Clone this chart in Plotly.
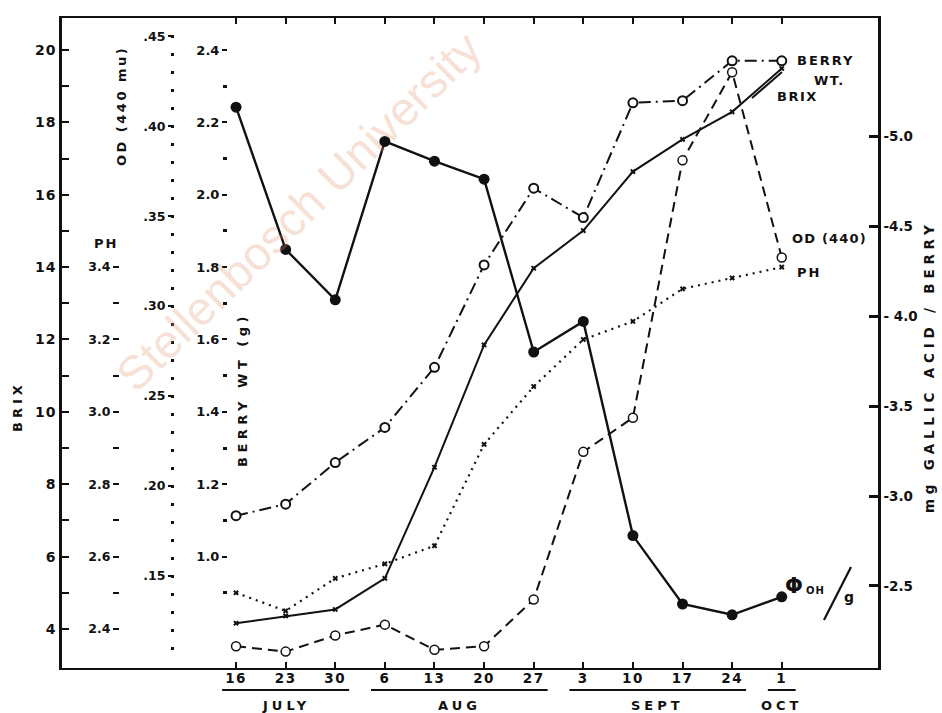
import plotly.graph_objects as go

# ---------------- data ----------------
days = ["16", "23", "30", "6", "13", "20", "27", "3", "10", "17", "24", "1"]
months = ["JULY", "AUG", "SEPT", "OCT"]
month_first = [0, 3, 7, 11]
month_last = [2, 6, 10, 11]

brix = [4.16, 4.36, 4.54, 5.40, 8.47, 11.85, 13.97, 15.01, 16.64, 17.53, 18.29, 19.49]
ph = [2.50, 2.45, 2.54, 2.58, 2.63, 2.91, 3.07, 3.20, 3.25, 3.34, 3.37, 3.40]
od440 = [0.111, 0.108, 0.117, 0.123, 0.109, 0.111, 0.137, 0.219, 0.238, 0.381, 0.430, 0.327]
berry_wt = [1.113, 1.145, 1.260, 1.357, 1.523, 1.806, 2.018, 1.937, 2.254, 2.260, 2.370, 2.370]
gallic = [5.16, 4.37, 4.09, 4.97, 4.86, 4.76, 3.80, 3.97, 2.78, 2.40, 2.34, 2.44]

brix_ticks = [4, 6, 8, 10, 12, 14, 16, 18, 20]
brix_minor = [5, 7, 9, 11, 13, 15, 17, 19]
ph_ticks = [2.4, 2.6, 2.8, 3.0, 3.2, 3.4]
ph_minor = [2.5, 2.7, 2.9, 3.1, 3.3]
od_ticks = [0.15, 0.20, 0.25, 0.30, 0.35, 0.40, 0.45]
od_labels = [".15", ".20", ".25", ".30", ".35", ".40", ".45"]
od_minor = [round(0.11 + 0.01 * i, 2) for i in range(35)]
bw_ticks = [1.0, 1.2, 1.4, 1.6, 1.8, 2.0, 2.2, 2.4]
bw_minor = [0.9, 1.1, 1.3, 1.5, 1.7, 1.9, 2.1, 2.3]
ga_ticks = [2.5, 3.0, 3.5, 4.0, 4.5, 5.0]
ga_labels = ["-2.5", "-3.0", "-3.5", "- 4.0", "-4.5", "-5.0"]

x = list(range(len(days)))

# ---------------- figure ----------------
FONT = "DejaVu Sans"
BLACK = "#111111"
W, H = 942, 713
L, R, T, B = 62, 64, 18, 45
pw, ph_px = W - L - R, H - T - B


def px(X):
    return (X - L) / pw


def py(Y):
    return (H - B - Y) / ph_px


def fnt(size, bold=True):
    return dict(family=FONT, size=size, color=BLACK, weight="bold" if bold else "normal")


def spaced(text, sp):
    return f'<span style="letter-spacing:{sp}px">{text}</span>'


fig = go.Figure()

fig.add_trace(go.Scatter(x=x, y=brix, yaxis="y", mode="lines+markers",
                         line=dict(color=BLACK, width=2),
                         marker=dict(symbol="x", size=5, color=BLACK)))
fig.add_trace(go.Scatter(x=x, y=ph, yaxis="y2", mode="lines+markers",
                         line=dict(color=BLACK, width=2.2, dash="2px,5px"),
                         marker=dict(symbol="x", size=5, color=BLACK)))
fig.add_trace(go.Scatter(x=x, y=od440, yaxis="y3", mode="lines+markers",
                         line=dict(color=BLACK, width=2, dash="10px,6px"),
                         marker=dict(symbol="circle", size=9, color="white",
                                     line=dict(color=BLACK, width=1.5))))
fig.add_trace(go.Scatter(x=x, y=berry_wt, yaxis="y4", mode="lines+markers",
                         line=dict(color=BLACK, width=2, dash="12px,5px,2px,5px"),
                         marker=dict(symbol="circle", size=9, color="white",
                                     line=dict(color=BLACK, width=2))))
fig.add_trace(go.Scatter(x=x, y=gallic, yaxis="y5", mode="lines+markers",
                         line=dict(color=BLACK, width=2.4),
                         marker=dict(symbol="circle", size=11, color=BLACK)))

# axis ranges derived from the tick positions of the original
brix_range = [2.922, 20.884]
ph_range = [2.0 + 0.1 * brix_range[0], 2.0 + 0.1 * brix_range[1]]
bw_range = [0.4 + 0.1 * brix_range[0], 0.4 + 0.1 * brix_range[1]]
od_range = [0.0989, 0.4601]
ga_range = [2.0444, 5.6556]

common = dict(showgrid=False, zeroline=False, color=BLACK)

fig.update_layout(
    width=W, height=H,
    margin=dict(l=L, r=R, t=T, b=B, pad=0),
    paper_bgcolor="white", plot_bgcolor="white",
    showlegend=False,
    font=dict(family=FONT, color=BLACK, size=13),
    xaxis=dict(range=[-3.508, 12.94], tickmode="array", tickvals=x,
               ticktext=[spaced(d, 1.5) for d in days], ticklabelstandoff=-3,
               ticks="inside", ticklen=6, tickwidth=2, tickcolor=BLACK,
               showline=True, linewidth=2, linecolor=BLACK, mirror="ticks",
               tickfont=fnt(13.5), **common),
    yaxis=dict(range=brix_range, tickmode="array", tickvals=brix_ticks,
               ticktext=[spaced(str(v), 1) for v in brix_ticks],
               ticks="inside", ticklen=7, tickwidth=2, tickcolor=BLACK,
               minor=dict(tickmode="array", tickvals=brix_minor, ticks="inside",
                          ticklen=7, tickwidth=2, tickcolor=BLACK),
               showline=True, linewidth=2.5, linecolor=BLACK, mirror=True,
               tickfont=fnt(14), **common),
    yaxis2=dict(range=ph_range, overlaying="y", anchor="free", position=px(119),
                side="left", tickmode="array", tickvals=ph_ticks,
                ticktext=[f"{v:.1f}" for v in ph_ticks],
                ticks="outside", ticklen=6, tickwidth=2, tickcolor=BLACK,
                minor=dict(tickmode="array", tickvals=ph_minor, ticks="outside",
                           ticklen=6, tickwidth=2, tickcolor=BLACK),
                showline=False, tickfont=fnt(12.5), **common),
    yaxis3=dict(range=od_range, overlaying="y", anchor="free", position=px(174),
                side="left", tickmode="array", tickvals=od_ticks, ticktext=od_labels,
                ticks="outside", ticklen=6, tickwidth=2, tickcolor=BLACK,
                minor=dict(tickmode="array", tickvals=od_minor, ticks="outside",
                           ticklen=3, tickwidth=3, tickcolor=BLACK),
                showline=False, tickfont=fnt(12.5), **common),
    yaxis4=dict(range=bw_range, overlaying="y", anchor="free", position=px(227),
                side="left", tickmode="array", tickvals=bw_ticks,
                ticktext=[f"{v:.1f}" for v in bw_ticks],
                ticks="outside", ticklen=5, tickwidth=2, tickcolor=BLACK,
                minor=dict(tickmode="array", tickvals=bw_minor, ticks="outside",
                           ticklen=4, tickwidth=3, tickcolor=BLACK),
                showline=False, tickfont=fnt(13), **common),
    yaxis5=dict(range=ga_range, overlaying="y", anchor="x", side="right",
                tickmode="array", tickvals=ga_ticks, ticktext=ga_labels,
                ticks="inside", ticklen=9, tickwidth=2.5, tickcolor=BLACK,
                showline=True, linewidth=2.5, linecolor=BLACK,
                tickfont=fnt(13.5), **common),
)

ann = []
shapes = []


def label(text, X, Y, size, angle=0, xanchor="center", sp=0, bold=True):
    t = spaced(text, sp) if sp else text
    ann.append(dict(text=t, x=px(X), y=py(Y), xref="paper", yref="paper",
                    showarrow=False, textangle=angle, xanchor=xanchor, yanchor="middle",
                    font=fnt(size, bold)))


# watermark
ann.append(dict(text="Stellenbosch University", x=px(298), y=py(211), xref="paper", yref="paper",
                showarrow=False, textangle=-44.5, xanchor="center", yanchor="middle",
                font=dict(family="Liberation Sans", size=47, color="rgba(228,150,115,0.30)")))

# axis titles
label("BRIX", 17, 407, 13, -90, sp=4)
label("PH", 106, 243, 13, sp=2)
label("OD (440 mu)", 121, 106, 13, -90, sp=2.5)
label("BERRY WT (g)", 242, 390, 13, -90, sp=4.5)
label("mg GALLIC ACID / BERRY", 929, 367, 13.5, -90, sp=4.8)

# series labels
label("BERRY", 795, 60, 13, xanchor="left", sp=2)
label("WT.", 812, 80, 13, xanchor="left", sp=1.5)
label("BRIX", 775, 97, 13, xanchor="left", sp=1.5)
label("OD (440)", 790, 238, 13, xanchor="left", sp=1.2)
label("PH", 795, 272, 13, xanchor="left", sp=2)
label("Φ", 794, 586, 21)
label("OH", 804, 590, 10, xanchor="left", sp=1)
label("g", 849, 597, 14)
shapes.append(dict(type="line", xref="paper", yref="paper", x0=px(824), y0=py(620),
                   x1=px(851), y1=py(567), line=dict(color=BLACK, width=2.2)))
shapes.append(dict(type="line", xref="paper", yref="paper", x0=px(752), y0=py(98),
                   x1=px(782), y1=py(72), line=dict(color=BLACK, width=2)))

# month labels and underlines
for m, a, b in zip(months, month_first, month_last):
    shapes.append(dict(type="line", xref="x", yref="paper", x0=a - 0.28, x1=b + 0.28,
                       y0=py(690), y1=py(690), line=dict(color=BLACK, width=2)))
    ann.append(dict(text=spaced(m, 4), x=(a + b) / 2, y=py(705), xref="x", yref="paper",
                    showarrow=False, xanchor="center", yanchor="middle", font=fnt(13)))

fig.update_layout(annotations=ann, shapes=shapes)
fig.write_html("out.html")
